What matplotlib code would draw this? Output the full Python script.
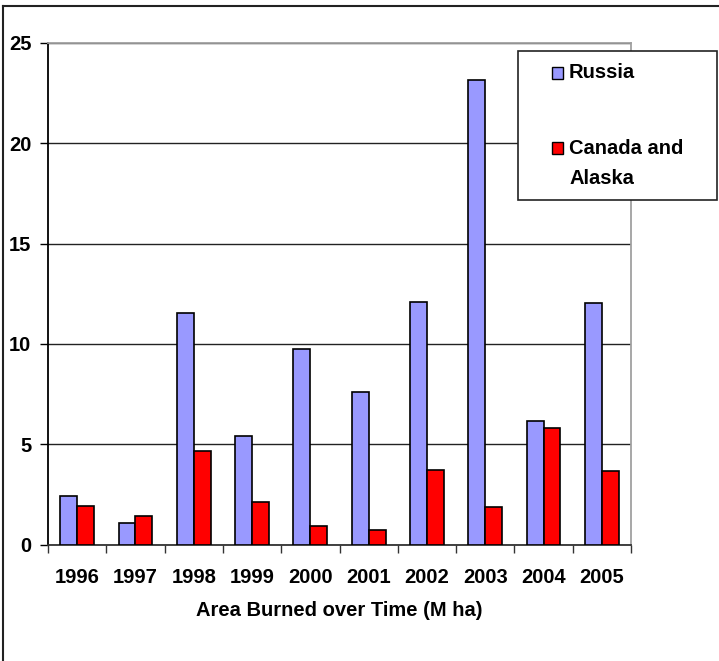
import numpy as np
import matplotlib.pyplot as plt
from matplotlib.patches import Rectangle

years = ['1996', '1997', '1998', '1999', '2000', '2001', '2002', '2003', '2004', '2005']
russia = [2.44, 1.09, 11.52, 5.43, 9.73, 7.62, 12.09, 23.15, 6.15, 12.04]
canada_alaska = [1.94, 1.44, 4.64, 2.10, 0.93, 0.75, 3.72, 1.86, 5.82, 3.65]
c_russia = '#9999ff'
c_canada = '#ff0000'

plt.rcParams['font.family'] = ['Liberation Sans', 'DejaVu Sans']
plt.rcParams['font.weight'] = 'bold'
FS = 14.5

fig = plt.figure(figsize=(7.19, 6.61), dpi=100)
W, H = 719, 661
ax = fig.add_axes([48/W, 1-544.6/H, (631-48)/W, (544.6-42.9)/H])

x = np.arange(len(years))
w = 0.29
ax.bar(x - w/2, russia, w, color=c_russia, edgecolor='black', linewidth=1.2, zorder=3)
ax.bar(x + w/2, canada_alaska, w, color=c_canada, edgecolor='black', linewidth=1.2, zorder=3)

ax.set_xlim(-0.5, len(years) - 0.5)
ax.set_ylim(0, 25)
ax.set_yticks([0, 5, 10, 15, 20, 25])
ax.yaxis.grid(True, color='#222222', linewidth=1.0, zorder=0)
ax.set_xticks(x)
ax.set_xticklabels(years, fontsize=FS, fontweight='bold')
ax.set_xticks(np.arange(-0.5, len(years)), minor=True)
ax.tick_params(axis='x', which='major', length=0, pad=17)
ax.tick_params(axis='x', which='minor', length=6, direction='out', width=1, color='#333333')
ax.tick_params(axis='y', length=6, direction='out', width=1, labelsize=FS, pad=6)
for lab in ax.get_yticklabels():
    lab.set_fontweight('bold')

ax.spines['left'].set_color('black')
ax.spines['bottom'].set_color('#333333')
ax.spines['top'].set_color('#a0a0a0')
ax.spines['right'].set_color('#a0a0a0')
for s in ax.spines.values():
    s.set_linewidth(1.3)

fig.text(339.5/W, 1-611/H, 'Area Burned over Time (M ha)', ha='center', va='center',
         fontsize=FS, fontweight='bold')

# legend box (drawn by hand to match the original layout)
fig.patches.append(Rectangle((518/W, 1-200/H), (717-518)/W, (200-51)/H,
                             transform=fig.transFigure, facecolor='white',
                             edgecolor='#222222', linewidth=1.2, zorder=5))
for yc, col in [(73, c_russia), (148, c_canada)]:
    fig.patches.append(Rectangle((552/W, 1-(yc+6)/H), 11/W, 12/H,
                                 transform=fig.transFigure, facecolor=col,
                                 edgecolor='black', linewidth=1.0, zorder=6))
fig.text(569/W, 1-73/H, 'Russia', ha='left', va='center', fontsize=FS, fontweight='bold', zorder=6)
fig.text(569/W, 1-148/H, 'Canada and', ha='left', va='center', fontsize=FS, fontweight='bold', zorder=6)
fig.text(569/W, 1-178/H, 'Alaska', ha='left', va='center', fontsize=FS, fontweight='bold', zorder=6)

# outer border (only top and left visible)
fig.add_artist(plt.Line2D([3/W, 3/W], [0, 1-6/H], transform=fig.transFigure,
                          color='#222222', linewidth=1.5))
fig.add_artist(plt.Line2D([3/W, 1], [1-6/H, 1-6/H], transform=fig.transFigure,
                          color='#222222', linewidth=1.5))

fig.savefig('out.png', dpi=100)
